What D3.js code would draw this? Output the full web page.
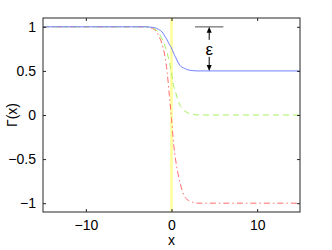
<!DOCTYPE html>
<html><head><meta charset="utf-8">
<script src="https://cdn.jsdelivr.net/npm/d3@7"></script>
<style>body{margin:0;background:#fff}svg{display:block}text{font-family:"Liberation Sans",Arial,sans-serif}</style>
</head><body><svg id="c" width="332" height="250"></svg>
<script>
const xs =        [-15, -3, -2.5, -2, -1.5, -1, -0.75, -0.5, -0.25, 0, 0.25, 0.5, 0.75, 1, 1.5, 2, 2.5, 3, 15];
const blueVals =  [1, 1, 0.997, 0.99, 0.97, 0.93, 0.89, 0.85, 0.80, 0.76, 0.70, 0.65, 0.60, 0.56, 0.53, 0.51, 0.503, 0.5, 0.5];
const greenVals = [1, 1, 0.995, 0.98, 0.93, 0.84, 0.78, 0.70, 0.60, 0.48, 0.33, 0.25, 0.17, 0.11, 0.05, 0.02, 0.01, 0, 0];
const redVals =   [1, 1, 0.99, 0.97, 0.90, 0.77, 0.66, 0.48, 0.22, -0.04, -0.33, -0.52, -0.66, -0.77, -0.92, -0.97, -0.99, -1, -1];
const xTicks = [-10, 0, 10];
const yTicks = [-1, -0.5, 0, 0.5, 1];
const epsX = 4.4, epsTop = 1, epsBottom = 0.5, barX = [2.75, 6.05];

const svg = d3.select("#c");
const L = 43, R = 300, T = 18, B = 212;
const x = d3.scaleLinear().domain([-15, 15]).range([L, R]);
const y = d3.scaleLinear().domain([-1.1, 1.1]).range([B, T]);
const fmt = d => (d < 0 ? "\u2212" : "") + Math.abs(d);

const g = svg.append("g");
g.append("line").attr("x1", x(0)).attr("x2", x(0)).attr("y1", T).attr("y2", B)
  .attr("stroke", "#ffff99").attr("stroke-width", 2.5);

const line = d3.line().x((d, i) => x(xs[i])).y(d => y(d)).curve(d3.curveMonotoneX);
g.append("path").attr("d", line(redVals)).attr("fill", "none").attr("stroke", "#ff6b6b")
  .attr("stroke-width", 1).attr("stroke-dasharray", "6,3,1.5,3");
g.append("path").attr("d", line(greenVals)).attr("fill", "none").attr("stroke", "#a6f060")
  .attr("stroke-width", 1).attr("stroke-dasharray", "6,4");
g.append("path").attr("d", line(blueVals)).attr("fill", "none").attr("stroke", "#7080ff")
  .attr("stroke-width", 1);

g.append("line").attr("x1", x(barX[0])).attr("x2", x(barX[1])).attr("y1", y(epsTop)).attr("y2", y(epsTop))
  .attr("stroke", "#888").attr("stroke-width", 1.5);
const ax = x(epsX), yt = y(epsTop), yb = y(epsBottom), ym = (yt + yb) / 2;
g.append("line").attr("x1", ax).attr("x2", ax).attr("y1", yt + 4).attr("y2", ym - 9).attr("stroke", "#000");
g.append("line").attr("x1", ax).attr("x2", ax).attr("y1", ym + 8).attr("y2", yb - 4).attr("stroke", "#000");
g.append("path").attr("d", `M${ax},${yt} L${ax-2.5},${yt+6} L${ax+2.5},${yt+6}Z`).attr("fill", "#000");
g.append("path").attr("d", `M${ax},${yb} L${ax-2.5},${yb-6} L${ax+2.5},${yb-6}Z`).attr("fill", "#000");
g.append("text").attr("x", ax).attr("y", ym + 6).attr("text-anchor", "middle")
  .attr("font-size", 17).text("\u03b5");

const axCol = "#262626";
svg.append("rect").attr("x", L).attr("y", T).attr("width", R - L).attr("height", B - T)
  .attr("fill", "none").attr("stroke", axCol).attr("stroke-width", 1);
const tl = 3;
const ax1 = svg.append("g").attr("transform", `translate(0,${B})`)
  .call(d3.axisBottom(x).tickValues(xTicks).tickFormat(fmt).tickSize(-tl).tickPadding(8));
const ax2 = svg.append("g").attr("transform", `translate(0,${T})`)
  .call(d3.axisTop(x).tickValues(xTicks).tickFormat("").tickSize(-tl));
const ax3 = svg.append("g").attr("transform", `translate(${L},0)`)
  .call(d3.axisLeft(y).tickValues(yTicks).tickFormat(fmt).tickSize(-tl).tickPadding(7));
const ax4 = svg.append("g").attr("transform", `translate(${R},0)`)
  .call(d3.axisRight(y).tickValues(yTicks).tickFormat("").tickSize(-tl));
[ax1, ax2, ax3, ax4].forEach(a => {
  a.select(".domain").remove();
  a.selectAll("line").attr("stroke", axCol);
  a.selectAll("text").attr("font-size", 14).attr("fill", "#000").attr("font-family", '"Liberation Sans",Arial,sans-serif');
});

svg.append("text").attr("x", (L + R) / 2).attr("y", 245).attr("text-anchor", "middle")
  .attr("font-size", 14).text("x");
svg.append("text").attr("transform", `translate(17,${(T + B) / 2}) rotate(-90)`).attr("text-anchor", "middle")
  .attr("font-size", 14).text("\u0393(x)");
</script></body></html>
